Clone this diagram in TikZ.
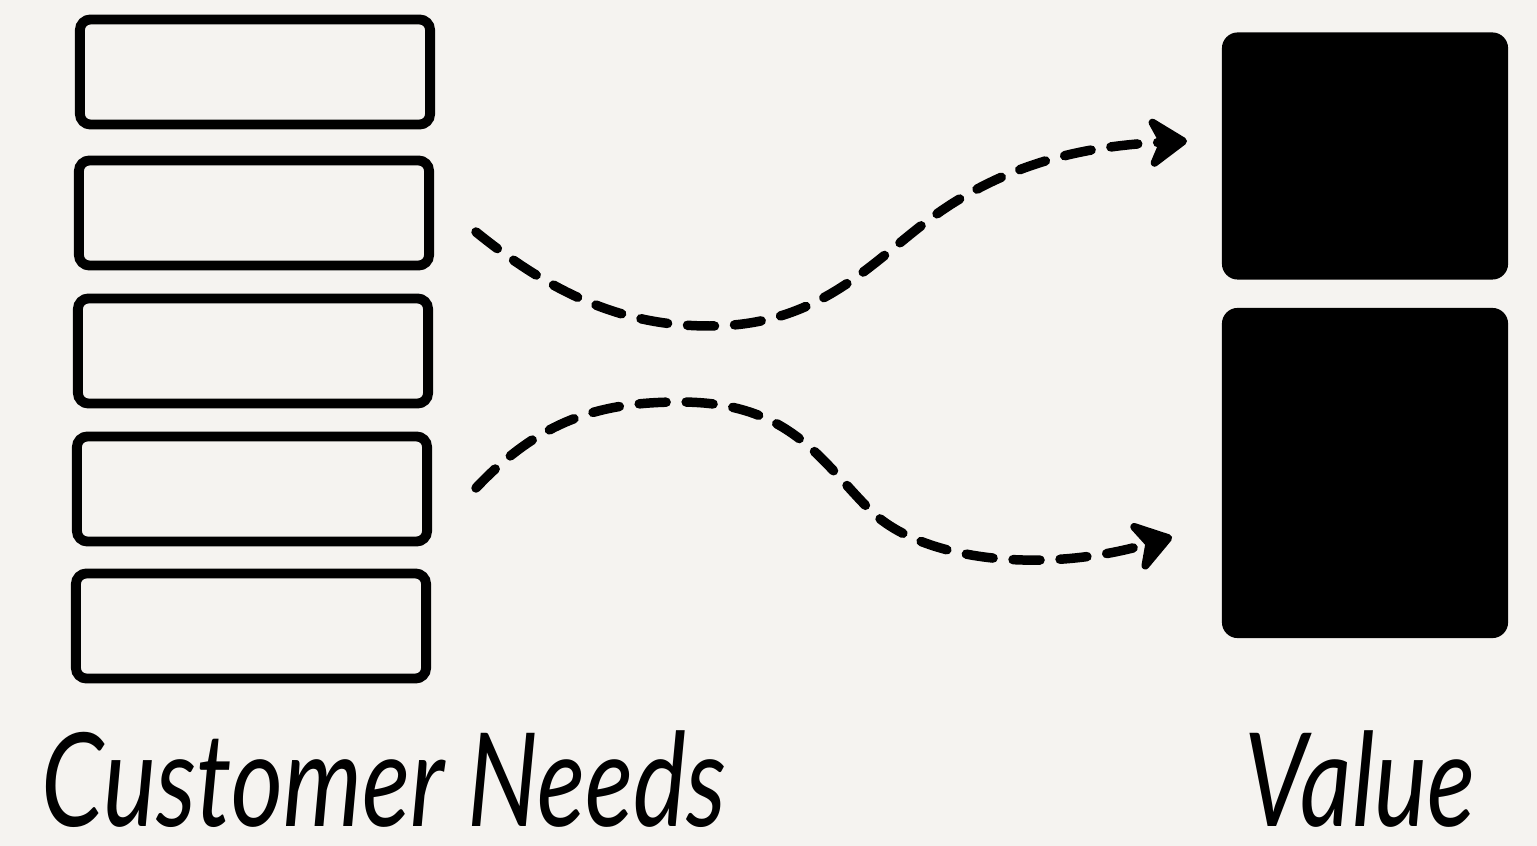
\documentclass[tikz,border=0pt]{standalone}
\usepackage{fontspec}
\newfontfamily\handfont{Lato}
\usetikzlibrary{arrows.meta}
\definecolor{paper}{HTML}{F5F3F0}
\begin{document}
\begin{tikzpicture}[
      x=0.01cm, y=-0.01cm,
      need/.style={rectangle, draw, line width=2.8pt, rounded corners=3pt,
                   minimum width=3.5cm, minimum height=1.05cm},
      value/.style={rectangle, fill=black, rounded corners=4.5pt,
                    minimum width=2.86cm, inner sep=0pt},
      flow/.style={line width=2.7pt, line cap=round, dash pattern=on 0.27cm off 0.2cm,
                   -{Stealth[length=0.46cm, width=0.62cm, round]}},
      label/.style={anchor=base, inner sep=0pt,
                    font=\handfont\itshape\fontsize{37}{40}\selectfont}
    ]
    \fill[paper] (0,0) rectangle (1537,846);
    \node[need] (n1) at (255, 72)  {};
    \node[need] (n2) at (254, 213) {};
    \node[need] (n3) at (253, 351) {};
    \node[need] (n4) at (252, 489) {};
    \node[need] (n5) at (251, 626) {};
    \node[value, minimum height=2.47cm] (v1) at (1365, 156) {};
    \node[value, minimum height=3.30cm] (v2) at (1365, 473) {};
    \node[label] (needs) at (384, 826) {\scalebox{0.77}[1]{Customer Needs}};
    \node[label] (val)   at (1360, 826) {\scalebox{0.77}[1]{Value}};
    % free ends of the two flows
    \coordinate (a1) at (476, 232);
    \coordinate (b1) at (1187, 141);
    \coordinate (a2) at (476, 488);
    \coordinate (b2) at (1172, 537);
    \draw[flow] (a1) .. controls (560, 300) and (630, 326) .. (710, 326)
                     .. controls (830, 326) and (880, 250) .. (950, 205)
                     .. controls (1020, 160) and (1090, 146) .. (b1);
    \draw[flow] (a2) .. controls (540, 420) and (600, 402) .. (680, 402)
                     .. controls (790, 402) and (820, 460) .. (870, 510)
                     .. controls (920, 560) and (1040, 575) .. (b2);
  \end{tikzpicture}
\end{document}
